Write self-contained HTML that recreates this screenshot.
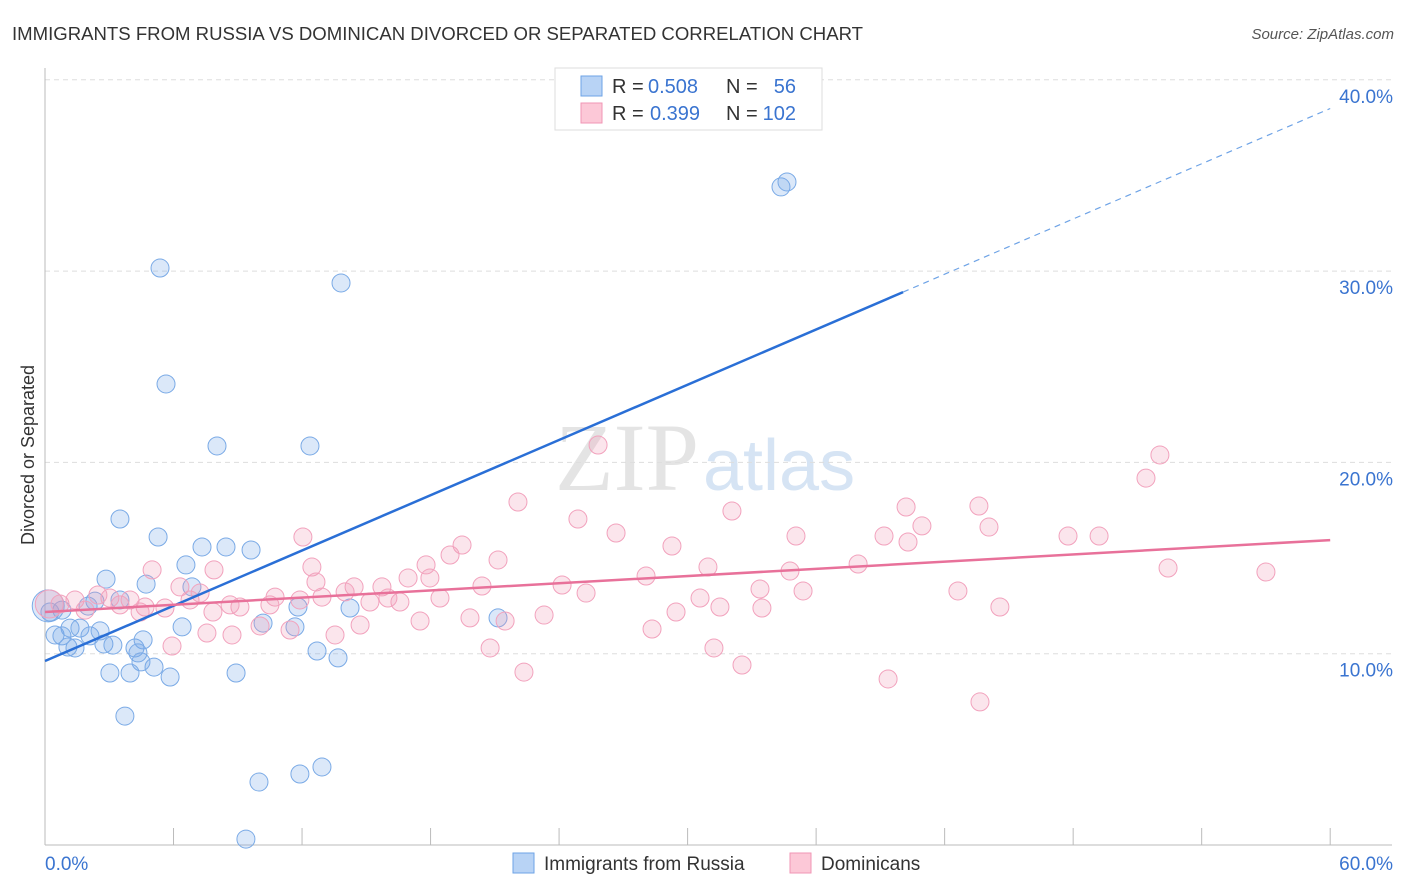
<!DOCTYPE html>
<html><head><meta charset="utf-8"><style>
body{margin:0;background:#fff;font-family:"Liberation Sans",sans-serif;}
svg{display:block}
</style></head><body>
<svg id="chart" width="1406" height="892">
<text x="12" y="40" font-size="18" fill="#333" textLength="851" lengthAdjust="spacingAndGlyphs">IMMIGRANTS FROM RUSSIA VS DOMINICAN DIVORCED OR SEPARATED CORRELATION CHART</text>
<text x="1394" y="39" font-size="15" fill="#555" font-style="italic" text-anchor="end">Source: ZipAtlas.com</text>
<text x="555" y="490" font-size="96" fill="#e4e4e4" font-family="Liberation Serif">ZIP<tspan fill="#d6e4f4" font-family="Liberation Sans" font-size="72" dx="4">atlas</tspan></text>
<text transform="translate(34,455) rotate(-90)" font-size="18" fill="#333" text-anchor="middle">Divorced or Separated</text>
<g id="grid"></g><g id="pts"></g><g id="lines"></g>
<g>
<rect x="555" y="68" width="267" height="62" fill="#fff" stroke="#ddd"/>
<rect x="581" y="76" width="21" height="20" fill="#b8d3f5" stroke="#6ea3e6"/>
<rect x="581" y="103" width="21" height="20" fill="#fcc8d7" stroke="#f096b4"/>
<text x="612" y="93" font-size="20" fill="#333">R =</text>
<text x="648" y="93" font-size="20" fill="#3a74d0">0.508</text>
<text x="726" y="93" font-size="20" fill="#333">N =</text>
<text x="796" y="93" font-size="20" fill="#3a74d0" text-anchor="end">56</text>
<text x="612" y="120" font-size="20" fill="#333">R =</text>
<text x="650" y="120" font-size="20" fill="#3a74d0">0.399</text>
<text x="726" y="120" font-size="20" fill="#333">N =</text>
<text x="796" y="120" font-size="20" fill="#3a74d0" text-anchor="end">102</text>
</g>
<g>
<rect x="513" y="853" width="21" height="20" fill="#b8d3f5" stroke="#6ea3e6"/>
<text x="544" y="870" font-size="19" fill="#333">Immigrants from Russia</text>
<rect x="790" y="853" width="21" height="20" fill="#fcc8d7" stroke="#f096b4"/>
<text x="821" y="870" font-size="19" fill="#333">Dominicans</text>
</g>
</svg>
<script>
const russiaX=[5.37,13.82,5.65,8.03,12.37,3.50,5.28,6.58,7.33,8.45,9.62,2.85,4.72,2.33,3.50,6.86,11.81,14.24,21.15,10.18,11.67,6.40,0.23,0.47,1.17,1.63,2.10,2.57,0.79,1.07,1.40,2.75,3.17,4.20,4.58,4.34,5.09,4.48,3.03,3.97,5.84,8.92,12.70,13.68,3.73,9.99,11.90,12.93,9.38,34.36,34.64,2.01,0.79];
const russiaY=[30.16,29.38,24.10,20.86,20.86,17.04,16.10,14.64,15.58,15.58,15.42,13.90,13.64,12.75,12.81,13.49,12.44,12.39,11.87,11.60,11.40,11.40,12.18,10.98,11.34,11.34,10.93,11.19,10.93,10.35,10.30,10.51,10.45,10.30,10.72,10.04,9.30,9.57,8.99,8.99,8.78,8.99,10.14,9.78,6.74,3.29,3.71,4.08,0.31,34.40,34.66,12.49,12.28];
const domX=[25.82,22.08,52.05,51.40,32.07,40.20,43.60,24.88,40.94,44.07,26.66,35.06,39.17,40.29,47.76,49.21,12.04,19.47,29.27,21.15,18.91,12.46,17.79,30.95,7.89,5.00,52.43,37.96,57.00,28.06,34.78,16.95,17.97,15.73,14.43,12.65,6.30,24.14,20.40,25.26,33.38,35.39,42.62,18.44,14.01,12.93,10.74,7.24,3.03,3.97,2.47,0.70,1.40,1.87,3.50,4.67,5.60,6.77,9.10,10.50,11.90,15.17,16.57,14.71,13.54,11.44,10.04,8.64,7.84,4.44,31.51,30.58,29.46,33.47,44.58,19.84,21.48,23.30,17.51,16.01,28.34,20.78,22.36,31.23,32.54,39.36,43.65,8.73,7.56,5.93];
const domY=[20.91,17.93,20.39,19.18,17.46,17.67,17.72,17.04,16.68,16.62,16.31,16.15,16.15,15.84,16.15,16.15,16.10,15.68,15.63,14.90,15.16,14.53,14.64,14.53,14.38,14.38,14.48,14.69,14.27,14.06,14.32,13.96,13.96,13.49,13.49,13.75,13.49,13.59,13.54,13.17,13.38,13.28,13.28,12.91,13.23,12.96,12.96,13.17,12.91,12.81,13.07,12.60,12.81,12.28,12.55,12.44,12.39,12.81,12.44,12.55,12.81,12.70,12.70,11.50,10.98,11.24,11.45,12.55,12.18,12.18,12.44,12.91,12.18,12.39,12.44,11.87,11.71,12.02,11.71,12.91,11.29,10.30,9.04,10.30,9.41,8.68,7.48,10.98,11.08,10.40];
const yTicks=[10,20,30,40];
const yTickLabels=["10.0%","20.0%","30.0%","40.0%"];
const xTickVals=[0,6,12,18,24,30,36,42,48,54,60];
const russiaLine=[9.62,38.5], domLine=[12.18,15.94];
const NS="http://www.w3.org/2000/svg";
const sx=v=>45+v*21.42, sy=v=>845-v*19.13;
function mk(tag,attrs,parent){const e=document.createElementNS(NS,tag);for(const k in attrs)e.setAttribute(k,attrs[k]);parent.appendChild(e);return e;}
const grid=document.getElementById('grid'),pts=document.getElementById('pts'),lines=document.getElementById('lines');
yTicks.forEach((t,i)=>{
 const l=mk('line',{x1:45,x2:1392,y1:sy(t),y2:sy(t),stroke:'#ddd','stroke-dasharray':'5,4'},grid);
 
 
 const tx=mk('text',{x:1393,y:sy(t)+23,'font-size':19,fill:'#3a74d0','text-anchor':'end'},grid);
 tx.textContent=yTickLabels[i];
 
 
});
mk('line',{x1:45,x2:45,y1:68,y2:845,stroke:'#bbb'},grid);
mk('line',{x1:45,x2:1392,y1:845,y2:845,stroke:'#bbb'},grid);
xTickVals.forEach(v=>{const t=mk('line',{x1:sx(v),x2:sx(v),y1:828,y2:845,stroke:'#bbb'},grid);
 
 });
const x0=mk('text',{x:45,y:870,'font-size':19,fill:'#3a74d0'},grid);x0.textContent='0.0%';


const x1=mk('text',{x:1393,y:870,'font-size':19,fill:'#3a74d0','text-anchor':'end'},grid);x1.textContent='60.0%';


const b1=mk('circle',{cx:sx(0.15),cy:sy(12.5),r:16,fill:'rgba(110,163,230,0.25)',stroke:'#7aaae6'},pts);


russiaX.forEach((x,i)=>{const c=mk('circle',{cx:sx(x),cy:sy(russiaY[i]),r:9,fill:'rgba(110,163,230,0.25)',stroke:'#7aaae6','stroke-width':1},pts);
 
 });
const b2=mk('circle',{cx:sx(0.2),cy:sy(12.6),r:14,fill:'rgba(240,150,180,0.25)',stroke:'#f2a2bd'},pts);


domX.forEach((x,i)=>{const c=mk('circle',{cx:sx(x),cy:sy(domY[i]),r:9,fill:'rgba(240,150,180,0.25)',stroke:'#f2a2bd','stroke-width':1},pts);
 
 });
const ry=x=>russiaLine[0]+(russiaLine[1]-russiaLine[0])*x/60;
const l1=mk('line',{x1:sx(0),y1:sy(ry(0)),x2:sx(40.06),y2:sy(ry(40.06)),stroke:'#2a6fd6','stroke-width':2.5},lines);


const l2=mk('line',{x1:sx(40.06),y1:sy(ry(40.06)),x2:sx(60),y2:sy(ry(60)),stroke:'#6ea3e6','stroke-width':1.2,'stroke-dasharray':'6,5'},lines);


const l3=mk('line',{x1:sx(0),y1:sy(domLine[0]),x2:sx(60),y2:sy(domLine[1]),stroke:'#e8719a','stroke-width':2.5},lines);


</script>
</body></html>
